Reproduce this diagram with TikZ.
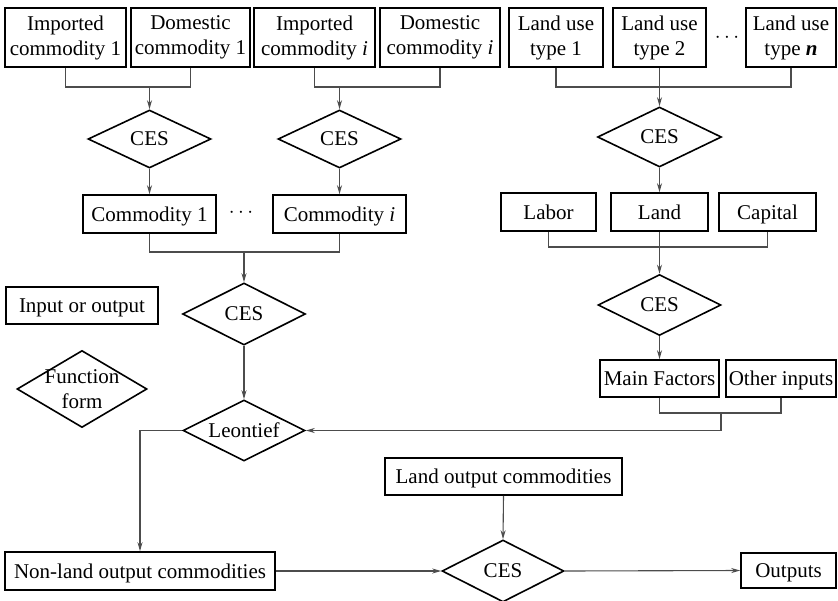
\documentclass[tikz,border=0pt]{standalone}
\usepackage{fontspec}
\setmainfont{Liberation Serif}
\usetikzlibrary{shapes.geometric,arrows.meta}
\begin{document}
\begin{tikzpicture}[x=1pt,y=-1pt,
  font=\fontsize{21}{25}\selectfont,
  box/.style={draw=black,line width=1.6pt,rectangle,inner sep=0pt,align=center},
  one/.style={box,text height=14pt,text depth=0pt},
  dia/.style={draw=black,line width=1.6pt,diamond,inner sep=0pt},
  conn/.style={draw=black!70,line width=1.1pt},
  arr/.style={conn,-{Stealth[length=9pt,width=5pt]}}]
\useasboundingbox (0,0) rectangle (838,600);
% top row
\node[box,minimum width=121,minimum height=59] (imp1) at (65.5,37.5) {Imported\\commodity 1};
\node[box,minimum width=119,minimum height=59] (dom1) at (190.5,37.5) {Domestic\\commodity 1};
\node[box,minimum width=121,minimum height=59] (imp2) at (314.5,37.5) {Imported\\commodity \textit{i}};
\node[box,minimum width=120,minimum height=59] (dom2) at (440,37.5) {Domestic\\commodity \textit{i}};
\node[box,minimum width=94,minimum height=59] (lu1) at (556,37.5) {Land use\\type 1};
\node[box,minimum width=93,minimum height=59] (lu2) at (659.5,37.5) {Land use\\type 2};
\node (dots2) at (727,38) {$\cdots$};
\node[box,minimum width=90,minimum height=59] (lun) at (791,37.5) {Land use\\type \textbf{\textit{n}}};
% diamonds row 1
\node[dia,minimum width=123,minimum height=58,label={center:CES}] (d1) at (149.5,139) {};
\node[dia,minimum width=123,minimum height=58,label={center:CES}] (d2) at (339.5,139) {};
\node[dia,minimum width=124,minimum height=60,label={center:CES}] (d3) at (659.5,137) {};
% commodity row
\node[one,minimum width=133,minimum height=38] (com1) at (149.5,214) {Commodity 1};
\node (dots1) at (241,213) {$\cdots$};
\node[one,minimum width=133,minimum height=38] (comi) at (339.5,214) {Commodity \textit{i}};
\node[one,minimum width=95,minimum height=38] (labor) at (548.5,212) {Labor};
\node[one,minimum width=97,minimum height=38] (land) at (659.5,212) {Land};
\node[one,minimum width=97,minimum height=38] (capital) at (767.5,212) {Capital};
% middle
\node[one,minimum width=152,minimum height=37] (inout) at (82,305.5) {Input or output};
\node[dia,minimum width=123,minimum height=62,label={center:CES}] (d5) at (244,314) {};
\node[dia,minimum width=123,minimum height=61,label={center:CES}] (d4) at (659.5,305) {};
\node[dia,minimum width=130,minimum height=77,label={[align=center]center:Function\\form}] (func) at (82,389) {};
\node[one,minimum width=119,minimum height=37] (mainf) at (659.5,378.5) {Main Factors};
\node[one,minimum width=110,minimum height=37] (other) at (781,378.5) {Other inputs};
\node[dia,minimum width=122,minimum height=61,label={center:Leontief}] (leon) at (244,430.5) {};
% bottom
\node[one,minimum width=237,minimum height=37] (landout) at (503.5,476.5) {Land output commodities};
\node[one,minimum width=270,minimum height=38] (nonland) at (140,571) {Non-land output commodities};
\node[dia,minimum width=122,minimum height=62,label={center:CES}] (d6) at (503,571) {};
\node[one,minimum width=95,minimum height=35] (outputs) at (788.5,570.5) {Outputs};
% junctions
\coordinate (j1) at (149.5,87);
\coordinate (j2) at (339.5,87);
\coordinate (j3) at (659.5,87);
\coordinate (j4) at (659.5,247);
\coordinate (j5) at (721,413);
\coordinate (j6) at (244,252);
% connectors
\draw[conn] (imp1.south) |- (j1) -| (dom1.south);
\draw[arr] (j1) -- (d1.north);
\draw[conn] (imp2.south) |- (j2) -| (dom2.south);
\draw[arr] (j2) -- (d2.north);
\draw[conn] (lu1.south) |- (j3) -| (lun.south);
\draw[arr] (lu2.south) -- (d3.north);
\draw[arr] (d1.south) -- (com1.north);
\draw[arr] (d2.south) -- (comi.north);
\draw[arr] (d3.south) -- (land.north);
\draw[conn] (labor.south) |- (j4) -| (capital.south);
\draw[arr] (land.south) -- (d4.north);
\draw[arr] (d4.south) -- (mainf.north);
\draw[conn] (mainf.south) |- (j5) -| (other.south);
\draw[arr] (j5) |- (leon.east);
\draw[conn] (com1.south) |- (j6) -| (comi.south);
\draw[arr] (j6) -- (d5.north);
\draw[arr] (d5.south) -- (leon.north);
\draw[arr] (leon.west) -| (nonland.north);
\draw[arr] (landout.south) -- (d6.north);
\draw[arr] (nonland.east) -- (d6.west);
\draw[arr] (d6.east) -- (outputs.west);
\end{tikzpicture}
\end{document}
